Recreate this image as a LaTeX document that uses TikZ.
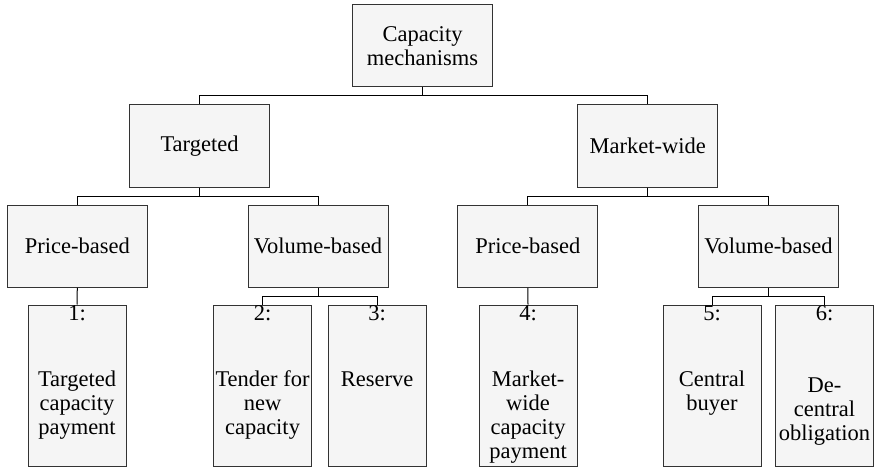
\documentclass[tikz,border=0pt]{standalone}
\usepackage{fontspec}
\setmainfont{Liberation Serif}
\usetikzlibrary{calc}
\definecolor{boxfill}{HTML}{F5F5F5}
\begin{document}
\begin{tikzpicture}[x=1pt,y=-1pt,
    every node/.style={font=\fontsize{22.5}{24}\selectfont, align=center, inner sep=0pt},
    box/.style={draw=black!80, fill=boxfill, line width=1pt, minimum width=140pt, minimum height=82pt},
    leaf/.style={draw=black!80, fill=boxfill, line width=1pt, minimum width=98pt, minimum height=161pt},
    elbow/.style={to path={|- ($(\tikztostart)!.5!(\tikztotarget)$) -| (\tikztotarget)}}]
  \useasboundingbox (0,0) rectangle (874,468);
  \draw
    (422.5,45.8) node[box] (capacity){Capacity\\mechanisms}
    (199.5,146) node[box] (targeted){Targeted}
    (647.7,146) node[box] (marketwide){Market-wide}
    (77.3,246.3) node[box] (tprice){Price-based}
    (318,246.3) node[box] (tvolume){Volume-based}
    (527.8,246.3) node[box] (mprice){Price-based}
    (768.5,246.3) node[box] (mvolume){Volume-based}
    (77,385.5) node[leaf] (1){}
    (262.5,385.5) node[leaf] (2){}
    (377,385.5) node[leaf] (3){}
    (528,385.5) node[leaf] (4){}
    (712,385.5) node[leaf] (5){}
    (824.5,385.5) node[leaf] (6){};
  \draw
    (77,320) node[anchor=base] (num1){1:}
    (262.5,320) node[anchor=base] (num2){2:}
    (377,320) node[anchor=base] (num3){3:}
    (528,320) node[anchor=base] (num4){4:}
    (712,320) node[anchor=base] (num5){5:}
    (824.5,320) node[anchor=base] (num6){6:}
    (77,434) node[anchor=base] (text1){Targeted\\capacity\\payment}
    (262.5,434) node[anchor=base] (text2){Tender for\\new\\capacity}
    (377,386) node[anchor=base] (text3){Reserve}
    (528,458) node[anchor=base] (text4){Market-\\wide\\capacity\\payment}
    (712,410) node[anchor=base] (text5){Central\\buyer}
    (824.5,440) node[anchor=base] (text6){De-\\central\\obligation};
  \begin{scope}[line width=1pt]
    \draw (capacity.south) to[elbow] (targeted.north);
    \draw (capacity.south) to[elbow] (marketwide.north);
    \draw (targeted.south) to[elbow] (tprice.north);
    \draw (targeted.south) to[elbow] (tvolume.north);
    \draw (marketwide.south) to[elbow] (mprice.north);
    \draw (marketwide.south) to[elbow] (mvolume.north);
    \draw (tprice.south) to (1.north);
    \draw (tvolume.south) to[elbow] (2.north);
    \draw (tvolume.south) to[elbow] (3.north);
    \draw (mprice.south) to (4.north);
    \draw (mvolume.south) to[elbow] (5.north);
    \draw (mvolume.south) to[elbow] (6.north);
  \end{scope}
\end{tikzpicture}
\end{document}
